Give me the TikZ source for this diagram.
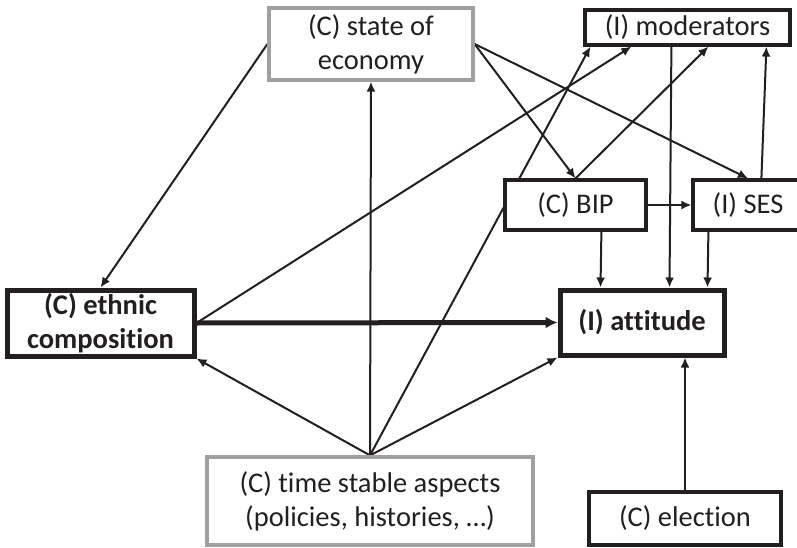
\documentclass[tikz,border=0pt]{standalone}
\usepackage{fontspec}
\setmainfont{Carlito}[Ligatures={NoCommon,NoContextual,NoRequired}]
\usetikzlibrary{arrows.meta,calc}
\pgfdeclarelayer{background}
\pgfsetlayers{background,main}
\definecolor{ink}{RGB}{35,31,32}
\definecolor{boxgray}{RGB}{160,160,160}
\newcommand\nolg{\kern0pt{}}
\begin{document}
\begin{tikzpicture}[x=1pt,y=-1pt,
  box/.style={draw=ink,line width=3.2pt,fill=white,inner sep=0pt,align=center,text=ink,
    font=\fontsize{28.5}{34}\selectfont},
  graybox/.style={box,draw=boxgray},
  thickbox/.style={box,line width=5pt,font=\fontsize{28.5}{34}\selectfont\bfseries},
  conn/.style={draw=ink,line width=2pt,-{Latex[length=10pt,width=9pt]}},
  thickconn/.style={draw=ink,line width=5pt,-{Latex[length=12pt,width=12pt]}}]
\useasboundingbox (0,0) rectangle (797,548);
\node[graybox,minimum width=204pt,minimum height=72pt] (state) at (371,44) {(C) state of\\economy};
\node[box,minimum width=205pt,minimum height=35pt] (mod) at (687.5,27.5) {(I) moderators};
\node[box,minimum width=141pt,minimum height=50pt] (bip) at (575.5,205) {(C) BIP};
\node[box,minimum width=110pt,minimum height=50pt] (ses) at (748,205) {(I) SES};
\node[thickbox,minimum width=187pt,minimum height=66pt] (eth) at (100.5,323) {(C) ethnic\\composit\nolg ion};
\node[thickbox,minimum width=164pt,minimum height=65pt] (att) at (642,322.5) {(I) at\nolg t\nolg itude};
\node[graybox,minimum width=326pt,minimum height=88pt] (tsa) at (370,501) {(C) t\nolg ime stable aspects\\(policies, histories, \dots)};
\node[box,minimum width=192pt,minimum height=53pt] (ele) at (685,518.5) {(C) elect\nolg ion};
\begin{pgfonlayer}{background}
\draw[conn] (state.west) -- (eth.north);
\draw[conn] (tsa.north) -- (state.south);
\draw[conn] (state.east) -- (bip.north);
\draw[conn] (state.east) -- (ses.north);
\draw[conn] (eth.east) -- ($(mod.south west)+(48,0)$);
\draw[conn] (bip.north) -- ($(mod.south west)+(125,0)$);
\draw[conn] (tsa.north) -- ($(mod.south west)+(7,0)$);
\draw[conn] ($(ses.north west)+(70,0)$) -- ($(mod.south west)+(183,0)$);
\draw[conn] ($(mod.south west)+(88,0)$) -- ($(att.north west)+(112,0)$);
\draw[conn] ($(bip.south west)+(98,0)$) -- ($(att.north west)+(43,0)$);
\draw[conn] ($(ses.south west)+(17,0)$) -- ($(att.north west)+(150,0)$);
\draw[conn] (bip.east) -- (ses.west);
\draw[thickconn] (eth.east) -- (att.west);
\draw[conn] (tsa.north) -- (eth.south east);
\draw[conn] (tsa.north) -- (att.south west);
\draw[conn] (ele.north) -- (ele.north |- att.south);
\end{pgfonlayer}
\end{tikzpicture}
\end{document}
